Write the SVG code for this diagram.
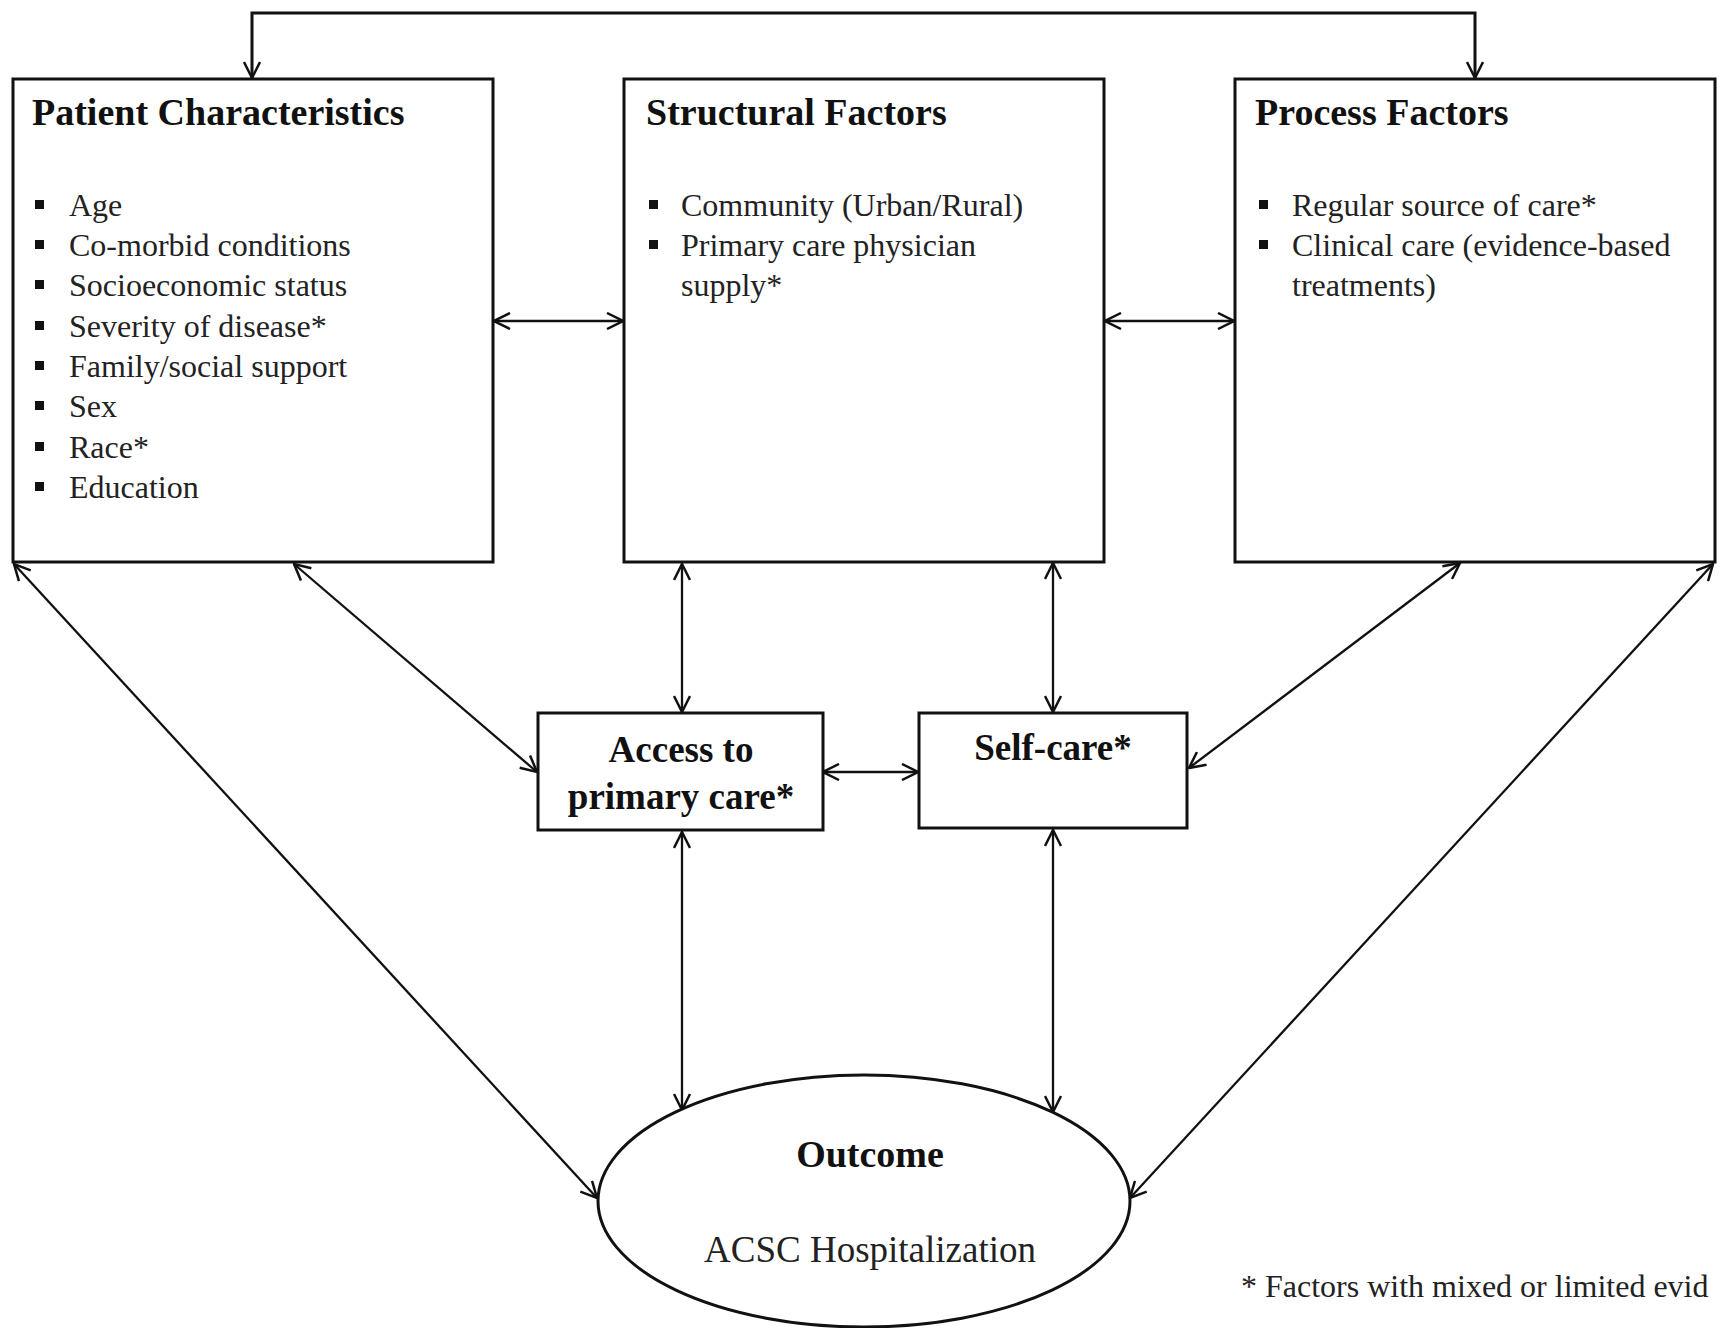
<svg xmlns="http://www.w3.org/2000/svg" width="1719" height="1328" viewBox="0 0 1719 1328">
<style>
.box{fill:#fff;stroke:#111;stroke-width:3}
.con{fill:none;stroke:#111;stroke-width:2.3}
.title{font-family:"Liberation Serif","Times New Roman",serif;font-weight:bold;font-size:38px;fill:#111}
.body{font-family:"Liberation Serif","Times New Roman",serif;font-size:32px;fill:#222}
.mid{font-family:"Liberation Serif","Times New Roman",serif;font-weight:bold;font-size:37px;fill:#111;text-anchor:middle}
.bul{fill:#111}
</style>
<defs>
<marker id="ah" viewBox="0 0 18 18" refX="17" refY="9" markerWidth="18" markerHeight="18" markerUnits="userSpaceOnUse" orient="auto-start-reverse">
<path d="M1,1 L17,9 L1,17" fill="none" stroke="#111" stroke-width="2.5"/>
</marker>
</defs>
<rect width="1719" height="1328" fill="#fff"/>
<g id="connectors">
<path class="con" style="stroke-width:3" d="M252,78 V13 H1475 V78" marker-start="url(#ah)" marker-end="url(#ah)"/>
<line class="con" x1="494" y1="321" x2="623" y2="321" marker-start="url(#ah)" marker-end="url(#ah)"/>
<line class="con" x1="1105" y1="321" x2="1234" y2="321" marker-start="url(#ah)" marker-end="url(#ah)"/>
<line class="con" x1="294" y1="564" x2="537" y2="772" marker-start="url(#ah)" marker-end="url(#ah)"/>
<line class="con" x1="682" y1="564" x2="682" y2="712" marker-start="url(#ah)" marker-end="url(#ah)"/>
<line class="con" x1="1053" y1="563" x2="1053" y2="712" marker-start="url(#ah)" marker-end="url(#ah)"/>
<line class="con" x1="1460" y1="563" x2="1189" y2="768" marker-start="url(#ah)" marker-end="url(#ah)"/>
<line class="con" x1="823" y1="772" x2="918" y2="772" marker-start="url(#ah)" marker-end="url(#ah)"/>
<line class="con" x1="682" y1="832" x2="682" y2="1110" marker-start="url(#ah)" marker-end="url(#ah)"/>
<line class="con" x1="1053" y1="830" x2="1053" y2="1112" marker-start="url(#ah)" marker-end="url(#ah)"/>
<line class="con" x1="14" y1="564" x2="597" y2="1198" marker-start="url(#ah)" marker-end="url(#ah)"/>
<line class="con" x1="1713" y1="564" x2="1130" y2="1198" marker-start="url(#ah)" marker-end="url(#ah)"/>
</g>
<g id="patient">
<rect class="box" x="13" y="79" width="480" height="483"/>
<text class="title" x="32" y="125">Patient Characteristics</text>
<g class="bul">
<rect x="35" y="200" width="9" height="9"/><rect x="35" y="240" width="9" height="9"/><rect x="35" y="280" width="9" height="9"/><rect x="35" y="321" width="9" height="9"/><rect x="35" y="361" width="9" height="9"/><rect x="35" y="401" width="9" height="9"/><rect x="35" y="442" width="9" height="9"/><rect x="35" y="482" width="9" height="9"/>
</g>
<text class="body" x="69" y="216">Age</text>
<text class="body" x="69" y="256">Co-morbid conditions</text>
<text class="body" x="69" y="296">Socioeconomic status</text>
<text class="body" x="69" y="337">Severity of disease*</text>
<text class="body" x="69" y="377">Family/social support</text>
<text class="body" x="69" y="417">Sex</text>
<text class="body" x="69" y="458">Race*</text>
<text class="body" x="69" y="498">Education</text>
</g>
<g id="structural">
<rect class="box" x="624" y="79" width="480" height="483"/>
<text class="title" x="646" y="125">Structural Factors</text>
<g class="bul"><rect x="649" y="200" width="9" height="9"/><rect x="649" y="240" width="9" height="9"/></g>
<text class="body" x="681" y="216">Community (Urban/Rural)</text>
<text class="body" x="681" y="256">Primary care physician</text>
<text class="body" x="681" y="296">supply*</text>
</g>
<g id="process">
<rect class="box" x="1235" y="79" width="480" height="483"/>
<text class="title" x="1255" y="125">Process Factors</text>
<g class="bul"><rect x="1259" y="200" width="9" height="9"/><rect x="1259" y="240" width="9" height="9"/></g>
<text class="body" x="1292" y="216">Regular source of care*</text>
<text class="body" x="1292" y="256">Clinical care (evidence-based</text>
<text class="body" x="1292" y="296">treatments)</text>
</g>
<g id="access">
<rect class="box" x="538" y="713" width="285" height="117"/>
<text class="mid" x="681" y="762">Access to</text>
<text class="mid" x="681" y="809">primary care*</text>
</g>
<g id="selfcare">
<rect class="box" x="919" y="713" width="268" height="115"/>
<text class="mid" x="1053" y="760">Self-care*</text>
</g>
<g id="outcome">
<ellipse cx="864" cy="1201" rx="266" ry="126" fill="#fff" stroke="#111" stroke-width="3"/>
<text class="mid" x="870" y="1167" style="font-size:38px">Outcome</text>
<text x="870" y="1262" text-anchor="middle" style="font-family:'Liberation Serif','Times New Roman',serif;font-size:37px;fill:#222">ACSC Hospitalization</text>
</g>
<text id="footnote" x="1241" y="1297" style="font-family:'Liberation Serif','Times New Roman',serif;font-size:32px;fill:#222">* Factors with mixed or limited evid</text>
</svg>
